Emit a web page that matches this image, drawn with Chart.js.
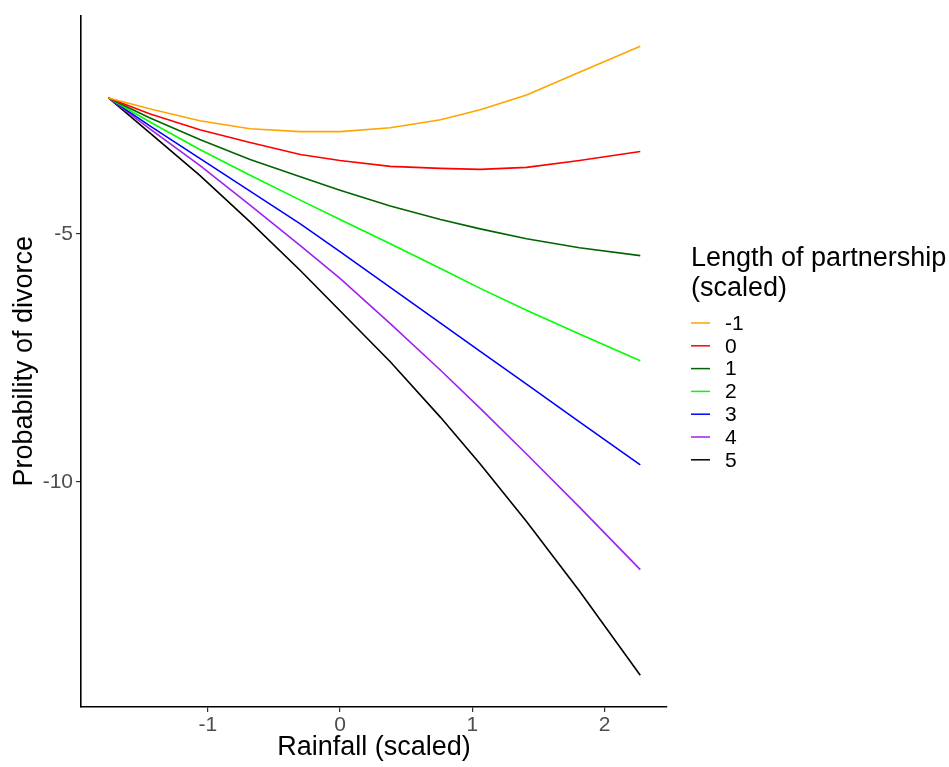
<!DOCTYPE html>
<html>
<head>
<meta charset="utf-8">
<script src="https://cdn.jsdelivr.net/npm/chart.js@4"></script>
<style>
  body { margin: 0; background: #fff; }
  #caja { width: 949px; height: 767px; position: relative; }
</style>
</head>
<body>
<div id="caja"><canvas id="grafico"></canvas></div>
<script>
// Datos
const rainfall = [-1.75, -1.44, -1.06, -0.68, -0.30, 0, 0.38, 0.76, 1.06, 1.41, 1.81, 2.27];
const lengthLevels = ['-1', '0', '1', '2', '3', '4', '5'];
const lenMinus1 = [-2.26, -2.48, -2.72, -2.88, -2.94, -2.94, -2.86, -2.70, -2.50, -2.20, -1.74, -1.22];
const len0 = [-2.26, -2.58, -2.90, -3.16, -3.40, -3.52, -3.64, -3.68, -3.70, -3.66, -3.52, -3.34];
const len1 = [-2.26, -2.66, -3.10, -3.50, -3.85, -4.12, -4.44, -4.71, -4.90, -5.10, -5.28, -5.44];
const len2 = [-2.26, -2.74, -3.30, -3.82, -4.32, -4.71, -5.20, -5.70, -6.10, -6.54, -7.02, -7.56];
const len3 = [-2.26, -2.82, -3.48, -4.14, -4.80, -5.36, -6.08, -6.80, -7.37, -8.03, -8.79, -9.66];
const len4 = [-2.26, -2.88, -3.62, -4.42, -5.24, -5.90, -6.81, -7.75, -8.52, -9.44, -10.51, -11.77];
const len5 = [-2.26, -2.96, -3.82, -4.76, -5.74, -6.55, -7.58, -8.70, -9.64, -10.80, -12.20, -13.90];
const lineColors = ['#FFA500', '#FF0000', '#006400', '#00FF00', '#0000FF', '#A020F0', '#000000'];
const xTicks = [-1, 0, 1, 2];
const yTicks = [-10, -5];
const legendTitle = ['Length of partnership', '(scaled)'];

const FUENTE = '"Liberation Sans", Arial, sans-serif';
const series = [lenMinus1, len0, len1, len2, len3, len4, len5];

const datasets = series.map((vals, i) => ({
  label: lengthLevels[i],
  data: vals.map((v, j) => ({ x: rainfall[j], y: v })),
  borderColor: lineColors[i],
  borderWidth: 1.6,
  pointRadius: 0,
  tension: 0,
  fill: false
}));

// Leyenda dibujada a mano (titulo en dos lineas)
const leyendaPlugin = {
  id: 'leyenda',
  afterDraw(chart) {
    const ctx = chart.ctx;
    ctx.save();
    ctx.fillStyle = '#000';
    ctx.textAlign = 'left';
    ctx.font = '27px ' + FUENTE;
    ctx.textBaseline = 'alphabetic';
    ctx.fillText(legendTitle[0], 691, 266);
    ctx.fillText(legendTitle[1], 691, 296);
    ctx.font = '21px ' + FUENTE;
    ctx.textBaseline = 'middle';
    chart.data.datasets.forEach((ds, i) => {
      const y = 323 + i * 22.8;
      ctx.strokeStyle = ds.borderColor;
      ctx.lineWidth = 1.5;
      ctx.beginPath(); ctx.moveTo(691, y); ctx.lineTo(710, y); ctx.stroke();
      ctx.fillText(ds.label, 725, y + 1);
    });
    ctx.restore();
  }
};

new Chart(document.getElementById('grafico'), {
  type: 'line',
  data: { datasets },
  plugins: [leyendaPlugin],
  options: {
    responsive: true,
    maintainAspectRatio: false,
    animation: false,
    layout: { padding: { left: 0, top: 10, right: 282, bottom: 0 } },
    plugins: { legend: { display: false }, tooltip: { enabled: false } },
    scales: {
      x: {
        type: 'linear',
        min: -1.958, max: 2.472,
        afterBuildTicks: s => { s.ticks = xTicks.map(v => ({ value: v })); },
        afterFit: s => { s.height = 60; },
        grid: { drawOnChartArea: false, tickLength: 5, color: '#333', lineWidth: 1.2 },
        border: { display: true, color: '#000', width: 1.6 },
        ticks: { color: '#4D4D4D', font: { size: 21, family: FUENTE }, padding: 1, maxRotation: 0 },
        title: { display: true, text: 'Rainfall (scaled)', color: '#000', font: { size: 27, family: FUENTE }, padding: { top: 0, bottom: 3 } }
      },
      y: {
        type: 'linear',
        min: -14.54, max: -0.6,
        afterBuildTicks: s => { s.ticks = yTicks.map(v => ({ value: v })); },
        afterFit: s => { s.width = 81; },
        grid: { drawOnChartArea: false, tickLength: 5, color: '#333', lineWidth: 1.2 },
        border: { display: true, color: '#000', width: 1.6 },
        ticks: { color: '#4D4D4D', font: { size: 21, family: FUENTE }, padding: 3 },
        title: { display: true, text: 'Probability of divorce', color: '#000', font: { size: 27, family: FUENTE }, padding: { top: 8, bottom: 0 } }
      }
    }
  }
});
</script>
</body>
</html>
